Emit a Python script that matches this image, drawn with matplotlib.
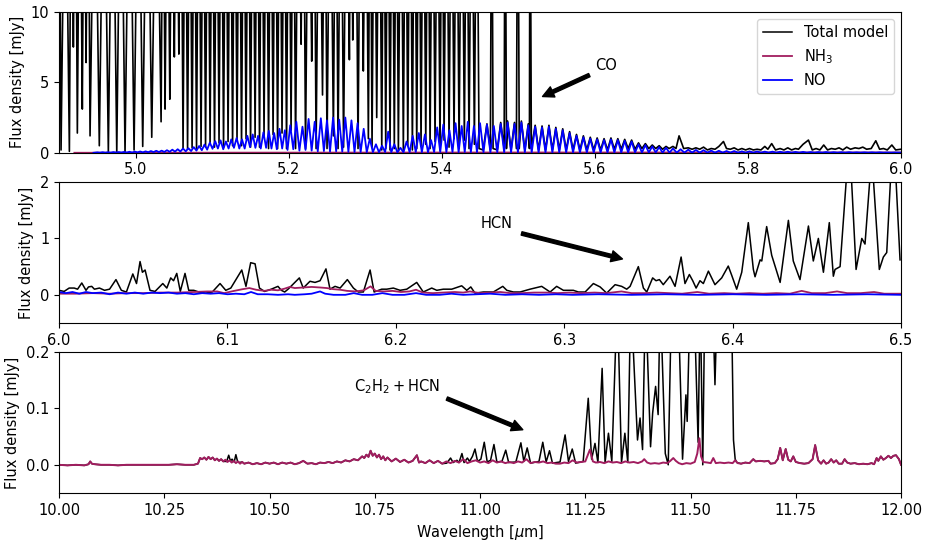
import numpy as np
import matplotlib
matplotlib.use("Agg")
import matplotlib.pyplot as plt
from matplotlib.lines import Line2D

plt.rcParams["font.size"] = 10.5

C_TOT = "black"
C_NH3 = "#a11d5f"
C_NO = "#0000ff"
LW = 1.1

# ── Panel 1 (4.9 – 6.0 µm) ─────────────────────────────────────────
# CO forest: wavelengths where the total model dips between the (off-scale) CO lines
CO_DIP_WL = [
    4.9026, 4.9135, 4.9187, 4.9239, 4.9304, 4.9353, 4.9405, 4.9526, 4.9644, 4.9754,
    4.9862, 4.9980, 5.0093, 5.0211, 5.0333, 5.0385, 5.0447, 5.0506, 5.0565,
    5.0620, 5.0679, 5.0738, 5.0796, 5.0855, 5.0914, 5.0973, 5.1031, 5.1090, 5.1149,
    5.1208, 5.1267, 5.1325, 5.1384, 5.1443, 5.1502, 5.1561, 5.1619, 5.1678, 5.1737,
    5.1796, 5.1855, 5.1913, 5.1972, 5.2031, 5.2090, 5.2162, 5.2220, 5.2301, 5.2358,
    5.2442, 5.2501, 5.2584, 5.2645, 5.2717, 5.2793, 5.2837, 5.2906, 5.2975, 5.3041,
    5.3089,
    5.3150, 5.3216, 5.3268, 5.3324, 5.3380, 5.3433, 5.3498, 5.3556, 5.3616, 5.3673,
    5.3729, 5.3791, 5.3847, 5.3912, 5.3977, 5.4030, 5.4095, 5.4160, 5.4226, 5.4295,
    5.4356, 5.4426, 5.4487,
]
CO_DIP_MIN = [
    0.2, 0.1, 7.5, 1.4, 3.1, 6.4, 1.2, 0.5, 0.1, 0.05,
    0.05, 0.2, 0.45, 1.1, 2.2, 3.1, 3.8, 6.8, 7.0,
    0.3, 0.25, 0.35, 0.3, 0.45, 0.4, 0.6, 0.4, 0.7, 0.4,
    0.8, 0.5, 0.9, 0.5, 1.0, 0.4, 1.1, 0.4, 1.2, 0.3,
    1.3, 0.3, 1.4, 0.3, 1.6, 0.3, 7.7, 0.3, 6.5, 0.3,
    4.1, 0.3, 1.2, 0.3, 0.4, 6.6, 8.0, 0.3, 5.8, 1.0,
    0.4,
    2.5, 0.2, 0.3, 0.2, 0.3, 0.1, 0.2, 0.5, 0.2, 0.3,
    0.5, 0.6, 0.3, 0.8, 0.2, 0.9, 0.4, 1.0, 0.3, 0.9,
    0.3, 0.6, 0.3,
]
CO_OFFSCALE = 25.0  # CO line peaks run far above the 10 mJy limit

# total model after the CO forest (incl. the last isolated CO lines)
TOT1_TAIL_WL = [
    5.454, 5.459, 5.4635, 5.4653, 5.467, 5.4725, 5.477, 5.4815, 5.4827, 5.4845,
    5.486, 5.4905, 5.495, 5.4975, 5.4993, 5.5012, 5.504, 5.5085, 5.513, 5.5145,
    5.5153, 5.517, 5.522, 5.5265, 5.531, 5.5355, 5.540, 5.5445, 5.549, 5.5535,
    5.558, 5.5625, 5.567, 5.5715, 5.576, 5.5805, 5.585, 5.5895, 5.594, 5.5985,
    5.603, 5.6075, 5.612, 5.6165, 5.621, 5.6255, 5.630, 5.6345, 5.639, 5.6435,
    5.648, 5.6525, 5.657, 5.6615, 5.666, 5.6705, 5.675, 5.6795, 5.684, 5.6885,
    5.693, 5.697, 5.702, 5.706, 5.710, 5.716, 5.722, 5.727, 5.732, 5.737,
    5.742, 5.747, 5.752, 5.757, 5.762, 5.768, 5.772, 5.777, 5.782, 5.787,
    5.792, 5.797, 5.802, 5.807, 5.812, 5.817, 5.822, 5.826, 5.831, 5.836,
    5.842, 5.847, 5.852, 5.857, 5.862, 5.866, 5.872, 5.879, 5.884, 5.889,
    5.894, 5.899, 5.904, 5.909, 5.914, 5.919, 5.924, 5.929, 5.934, 5.940,
    5.945, 5.950, 5.955, 5.961, 5.967, 5.972, 5.977, 5.982, 5.988, 5.993,
    6.000,
]
TOT1_TAIL_FLUX = [
    0.2, 2.05, 0.2, 25, 0.3, 0.2, 2.15, 0.3, 25, 0.3,
    2.25, 0.2, 2.15, 0.3, 25, 0.3, 2.25, 0.2, 2.05, 0.3,
    25, 0.3, 1.95, 0.2, 1.9, 0.2, 1.95, 0.2, 1.8, 0.2,
    1.7, 0.2, 1.5, 0.2, 1.3, 0.2, 1.2, 0.2, 1.1, 0.2,
    1.05, 0.2, 1.0, 0.2, 1.05, 0.25, 1.0, 0.25, 0.95, 0.3,
    0.9, 0.25, 0.7, 0.3, 0.65, 0.3, 0.55, 0.3, 0.5, 0.25,
    0.45, 0.3, 0.45, 0.3, 1.2, 0.3, 0.35, 0.25, 0.35, 0.25,
    0.4, 0.2, 0.3, 0.25, 0.45, 0.8, 0.3, 0.25, 0.35, 0.2,
    0.3, 0.2, 0.3, 0.2, 0.25, 0.2, 0.45, 0.25, 0.65, 0.2,
    0.3, 0.2, 0.35, 0.2, 0.3, 0.25, 0.6, 0.9, 0.2, 0.3,
    0.2, 0.55, 0.2, 0.3, 0.25, 0.35, 0.2, 0.4, 0.25, 0.35,
    0.3, 0.4, 0.25, 0.3, 0.85, 0.25, 0.3, 0.2, 0.55, 0.2,
    0.25,
]

# NO band: line peaks and the troughs after each line
NO1_PEAK_WL = [
    4.950, 4.957, 4.964, 4.971, 4.978, 4.985, 4.992, 4.999, 5.006, 5.013,
    5.020, 5.027, 5.034, 5.041, 5.048, 5.055, 5.062, 5.069, 5.076, 5.083,
    5.090, 5.097, 5.104, 5.111, 5.118, 5.125, 5.132, 5.139, 5.146, 5.153,
    5.160, 5.167, 5.174, 5.181, 5.188, 5.195, 5.202, 5.210, 5.218, 5.226,
    5.234, 5.242, 5.250, 5.258, 5.266, 5.274, 5.282, 5.290, 5.298, 5.306,
    5.314, 5.322, 5.330, 5.338, 5.346, 5.354, 5.362, 5.370, 5.378, 5.386,
    5.394, 5.402, 5.410, 5.418, 5.426, 5.434, 5.442, 5.450, 5.459, 5.468,
    5.477, 5.486, 5.495, 5.504, 5.513, 5.522, 5.531, 5.540, 5.549, 5.558,
    5.567, 5.576, 5.585, 5.594, 5.603, 5.612, 5.621, 5.630, 5.639, 5.648,
    5.657, 5.666, 5.675, 5.684, 5.693, 5.702, 5.712, 5.722, 5.732, 5.742,
    5.752, 5.762, 5.772, 5.782, 5.792, 5.802, 5.812, 5.822, 5.832, 5.842,
    5.852, 5.862, 5.872, 5.882, 5.892, 5.902, 5.912, 5.922, 5.932, 5.942,
    5.952, 5.962, 5.972, 5.982, 5.992,
]
NO1_PEAK_FLUX = [
    0.03, 0.04, 0.04, 0.05, 0.05, 0.06, 0.07, 0.08, 0.09, 0.10,
    0.12, 0.14, 0.15, 0.18, 0.22, 0.25, 0.30, 0.32, 0.40, 0.48,
    0.58, 0.72, 0.82, 0.88, 0.80, 0.95, 1.05, 0.95, 1.20, 1.30,
    1.20, 1.45, 1.55, 1.40, 1.70, 1.60, 1.95, 2.20, 1.85, 2.40,
    2.20, 2.45, 2.30, 2.50, 2.35, 2.50, 2.30, 2.10, 1.70, 1.00,
    0.60, 0.50, 1.50, 0.60, 0.35, 0.80, 1.20, 1.40, 1.30, 0.90,
    1.80, 2.00, 1.60, 2.10, 1.90, 2.20, 1.90, 2.10, 2.00, 1.90,
    2.05, 2.15, 2.05, 2.15, 1.95, 1.85, 1.80, 1.85, 1.70, 1.60,
    1.40, 1.20, 1.10, 1.00, 0.95, 0.90, 0.95, 0.90, 0.85, 0.80,
    0.60, 0.55, 0.45, 0.40, 0.35, 0.30, 0.25, 0.22, 0.20, 0.18,
    0.15, 0.14, 0.12, 0.12, 0.10, 0.10, 0.09, 0.08, 0.08, 0.07,
    0.07, 0.06, 0.06, 0.05, 0.05, 0.05, 0.04, 0.04, 0.04, 0.03,
    0.03, 0.03, 0.03, 0.02, 0.02,
]
NO1_TROUGH_FLUX = [
    0.01, 0.01, 0.01, 0.02, 0.02, 0.02, 0.02, 0.03, 0.03, 0.04,
    0.05, 0.05, 0.06, 0.07, 0.08, 0.09, 0.10, 0.12, 0.15, 0.18,
    0.22, 0.28, 0.30, 0.25, 0.30, 0.35, 0.30, 0.30, 0.40, 0.35,
    0.30, 0.35, 0.30, 0.25, 0.30, 0.20, 0.25, 0.15, 0.20, 0.15,
    0.10, 0.12, 0.08, 0.10, 0.08, 0.06, 0.05, 0.05, 0.04, 0.04,
    0.03, 0.05, 0.04, 0.03, 0.03, 0.04, 0.05, 0.04, 0.03, 0.05,
    0.05, 0.04, 0.05, 0.04, 0.05, 0.04, 0.04, 0.03, 0.03, 0.03,
    0.03, 0.03, 0.03, 0.03, 0.03, 0.02, 0.02, 0.02, 0.02, 0.02,
    0.02, 0.02, 0.02, 0.02, 0.02, 0.02, 0.02, 0.02, 0.02, 0.02,
    0.02, 0.02, 0.02, 0.01, 0.01, 0.01, 0.01, 0.01, 0.01, 0.01,
    0.01, 0.01, 0.01, 0.01, 0.01, 0.01, 0.01, 0.01, 0.01, 0.01,
    0.01, 0.01, 0.01, 0.01, 0.01, 0.01, 0.01, 0.01, 0.01, 0.01,
    0.01, 0.01, 0.01, 0.01,
]

NH3_1_WL = [4.92, 5.2, 5.5, 5.8, 6.0]
NH3_1_FLUX = [0.0, 0.01, 0.02, 0.02, 0.02]

# ── Panel 2 (6.0 – 6.5 µm) ─────────────────────────────────────────
TOT2_WL = [
    6.000, 6.003, 6.006, 6.009, 6.011, 6.0135, 6.016, 6.0175, 6.0194, 6.021,
    6.024, 6.027, 6.030, 6.0338, 6.037, 6.040, 6.0438, 6.046, 6.0481, 6.0495,
    6.0511, 6.054, 6.057, 6.0616, 6.064, 6.0663, 6.068, 6.0699, 6.072, 6.0748,
    6.077, 6.080, 6.083, 6.087, 6.091, 6.0956, 6.099, 6.102, 6.1085, 6.111,
    6.1138, 6.1164, 6.119, 6.122, 6.126, 6.130, 6.132, 6.134, 6.136, 6.1427,
    6.145, 6.149, 6.152, 6.155, 6.1585, 6.1609, 6.1639, 6.1669, 6.1712, 6.1748,
    6.1777, 6.1807, 6.1847, 6.1871, 6.1916, 6.1946, 6.1985, 6.2025, 6.2065, 6.2124,
    6.2163, 6.2213, 6.2243, 6.2282, 6.2332, 6.2391, 6.2421, 6.2445, 6.2470, 6.2520,
    6.2579, 6.2635, 6.2659, 6.2698, 6.2738, 6.2797, 6.2866, 6.2916, 6.2955, 6.2995,
    6.3054, 6.3084, 6.3124, 6.3173, 6.3213, 6.3252, 6.3302, 6.3341, 6.3371, 6.3391,
    6.3440, 6.3470, 6.3490, 6.3525, 6.3545, 6.3565, 6.3588, 6.3628, 6.3658, 6.3694,
    6.3717, 6.3743, 6.3763, 6.3783, 6.3806, 6.3826, 6.3856, 6.3895, 6.3935, 6.3974,
    6.3994, 6.4024, 6.4054, 6.4093, 6.4123, 6.4133, 6.4163, 6.4173, 6.4202, 6.4232,
    6.4282, 6.4331, 6.4360, 6.4400, 6.4450, 6.4479, 6.4509, 6.4539, 6.4574, 6.4598,
    6.4608, 6.4638, 6.4693, 6.4733, 6.4767, 6.4786, 6.4826, 6.4871, 6.4895, 6.4915,
    6.4954, 6.4994,
]
TOT2_FLUX = [
    0.08, 0.06, 0.12, 0.12, 0.10, 0.21, 0.08, 0.14, 0.15, 0.10,
    0.12, 0.08, 0.10, 0.27, 0.08, 0.05, 0.37, 0.20, 0.59, 0.40,
    0.44, 0.08, 0.06, 0.20, 0.12, 0.30, 0.25, 0.38, 0.06, 0.38,
    0.08, 0.08, 0.05, 0.03, 0.05, 0.20, 0.08, 0.12, 0.44, 0.15,
    0.57, 0.55, 0.12, 0.06, 0.10, 0.15, 0.08, 0.05, 0.10, 0.30,
    0.12, 0.24, 0.22, 0.25, 0.46, 0.10, 0.15, 0.12, 0.27, 0.12,
    0.05, 0.05, 0.44, 0.05, 0.10, 0.10, 0.12, 0.08, 0.10, 0.22,
    0.05, 0.12, 0.08, 0.10, 0.10, 0.16, 0.08, 0.14, 0.03, 0.05,
    0.05, 0.15, 0.08, 0.05, 0.05, 0.10, 0.15, 0.05, 0.15, 0.08,
    0.08, 0.05, 0.05, 0.20, 0.14, 0.03, 0.18, 0.15, 0.10, 0.15,
    0.50, 0.12, 0.05, 0.30, 0.25, 0.27, 0.18, 0.33, 0.15, 0.67,
    0.20, 0.36, 0.25, 0.12, 0.25, 0.20, 0.42, 0.18, 0.30, 0.51,
    0.35, 0.10, 0.40, 1.28, 0.45, 0.32, 0.62, 0.60, 1.21, 0.70,
    0.22, 1.32, 0.60, 0.27, 1.22, 0.60, 1.00, 0.40, 1.28, 0.33,
    0.45, 0.50, 2.80, 0.45, 1.00, 0.90, 2.50, 0.45, 0.67, 0.75,
    3.00, 0.62,
]
NH3_2_WL = [
    6.000, 6.010, 6.020, 6.030, 6.040, 6.050, 6.060, 6.070, 6.080, 6.088,
    6.094, 6.098, 6.104, 6.109, 6.113, 6.117, 6.122, 6.126, 6.130, 6.134,
    6.137, 6.140, 6.145, 6.150, 6.155, 6.159, 6.163, 6.167, 6.171, 6.176,
    6.181, 6.185, 6.188, 6.193, 6.198, 6.203, 6.208, 6.212, 6.216, 6.222,
    6.228, 6.235, 6.240, 6.244, 6.250, 6.256, 6.262, 6.268, 6.275, 6.282,
    6.290, 6.296, 6.303, 6.310, 6.318, 6.325, 6.334, 6.340, 6.348, 6.355,
    6.362, 6.370, 6.379, 6.386, 6.395, 6.402, 6.410, 6.418, 6.426, 6.434,
    6.441, 6.447, 6.455, 6.462, 6.468, 6.476, 6.484, 6.490, 6.500,
]
NH3_2_FLUX = [
    0.02, 0.02, 0.03, 0.02, 0.03, 0.03, 0.04, 0.04, 0.05, 0.06,
    0.06, 0.03, 0.07, 0.10, 0.12, 0.09, 0.07, 0.09, 0.08, 0.11,
    0.14, 0.12, 0.13, 0.14, 0.13, 0.12, 0.10, 0.09, 0.07, 0.06,
    0.08, 0.15, 0.07, 0.06, 0.07, 0.05, 0.06, 0.09, 0.04, 0.03,
    0.04, 0.05, 0.04, 0.06, 0.03, 0.04, 0.05, 0.03, 0.03, 0.04,
    0.04, 0.03, 0.04, 0.03, 0.04, 0.03, 0.06, 0.03, 0.03, 0.04,
    0.03, 0.02, 0.05, 0.02, 0.03, 0.02, 0.03, 0.02, 0.03, 0.02,
    0.07, 0.03, 0.03, 0.06, 0.03, 0.03, 0.05, 0.02, 0.02,
]
NO2_WL = [
    6.000, 6.004, 6.008, 6.012, 6.016, 6.020, 6.025, 6.030, 6.035, 6.040,
    6.045, 6.050, 6.055, 6.060, 6.065, 6.070, 6.075, 6.080, 6.085, 6.090,
    6.095, 6.100, 6.105, 6.110, 6.114, 6.118, 6.124, 6.130, 6.136, 6.140,
    6.146, 6.150, 6.155, 6.158, 6.163, 6.170, 6.175, 6.180, 6.186, 6.192,
    6.198, 6.205, 6.212, 6.218, 6.226, 6.233, 6.240, 6.248, 6.256, 6.265,
    6.275, 6.285, 6.295, 6.305, 6.320, 6.340, 6.360, 6.380, 6.400, 6.420,
    6.440, 6.460, 6.480, 6.500,
]
NO2_FLUX = [
    0.05, 0.03, 0.05, 0.02, 0.05, 0.03, 0.04, 0.01, 0.04, 0.02,
    0.04, 0.02, 0.04, 0.03, 0.04, 0.02, 0.03, 0.01, 0.03, 0.02,
    0.03, 0.01, 0.02, 0.01, 0.05, 0.01, 0.01, 0.00, 0.01, 0.00,
    0.01, 0.02, 0.06, 0.02, 0.00, 0.00, 0.03, 0.00, 0.00, 0.03,
    0.00, 0.00, 0.03, 0.00, 0.00, 0.02, 0.00, 0.01, 0.02, 0.00,
    0.01, 0.00, 0.01, 0.00, 0.01, 0.00, 0.01, 0.00, 0.01, 0.00,
    0.01, 0.00, 0.01, 0.00,
]

# ── Panel 3 (10 – 12 µm) ───────────────────────────────────────────
NH3_3_WL = [
    10.000, 10.020, 10.040, 10.060, 10.070, 10.074, 10.078, 10.085, 10.100, 10.120,
    10.140, 10.160, 10.180, 10.200, 10.220, 10.240, 10.260, 10.280, 10.300, 10.320,
    10.330, 10.335, 10.340, 10.345, 10.350, 10.355, 10.360, 10.365, 10.370, 10.375,
    10.380, 10.385, 10.390, 10.395, 10.400, 10.405, 10.410, 10.415, 10.420, 10.425,
    10.430, 10.435, 10.440, 10.450, 10.460, 10.470, 10.480, 10.490, 10.500, 10.510,
    10.520, 10.530, 10.540, 10.550, 10.560, 10.570, 10.580, 10.590, 10.600, 10.610,
    10.620, 10.630, 10.640, 10.650, 10.660, 10.670, 10.680, 10.690, 10.700, 10.710,
    10.720, 10.725, 10.730, 10.735, 10.740, 10.745, 10.750, 10.755, 10.760, 10.765,
    10.770, 10.775, 10.780, 10.790, 10.800, 10.810, 10.820, 10.830, 10.840, 10.850,
    10.855, 10.860, 10.870, 10.880, 10.890, 10.900, 10.910, 10.920, 10.930, 10.940,
    10.950, 10.960, 10.970, 10.980, 10.990, 11.000, 11.010, 11.020, 11.030, 11.040,
    11.050, 11.060, 11.070, 11.080, 11.090, 11.100, 11.110, 11.120, 11.130, 11.140,
    11.150, 11.160, 11.170, 11.180, 11.190, 11.200, 11.210, 11.220, 11.230, 11.240,
    11.250, 11.261, 11.268, 11.275, 11.285, 11.295, 11.305, 11.315, 11.325, 11.335,
    11.345, 11.355, 11.365, 11.375, 11.385, 11.390, 11.397, 11.405, 11.415, 11.425,
    11.435, 11.445, 11.452, 11.459, 11.465, 11.472, 11.480, 11.490, 11.500, 11.510,
    11.516, 11.521, 11.525, 11.530, 11.540, 11.548, 11.554, 11.560, 11.570, 11.580,
    11.590, 11.600, 11.606, 11.612, 11.620, 11.630, 11.640, 11.649, 11.655, 11.665,
    11.675, 11.685, 11.690, 11.700, 11.707, 11.713, 11.719, 11.726, 11.732, 11.738,
    11.744, 11.750, 11.760, 11.770, 11.780, 11.790, 11.796, 11.803, 11.810, 11.816,
    11.822, 11.828, 11.834, 11.840, 11.846, 11.852, 11.860, 11.866, 11.872, 11.880,
    11.890, 11.900, 11.910, 11.920, 11.930, 11.936, 11.942, 11.946, 11.952, 11.958,
    11.964, 11.970, 11.976, 11.982, 11.988, 11.995, 12.000,
]
NH3_3_FLUX = [
    0.000, -0.001, 0.000, -0.001, 0.001, 0.006, 0.002, 0.001, 0.000, 0.000,
    -0.001, 0.000, 0.000, 0.000, 0.000, 0.000, 0.000, 0.001, 0.000, 0.000,
    0.002, 0.012, 0.010, 0.013, 0.009, 0.014, 0.010, 0.013, 0.008, 0.011,
    0.007, 0.010, 0.006, 0.009, 0.005, 0.008, 0.004, 0.007, 0.003, 0.006,
    0.002, 0.005, 0.002, 0.004, 0.001, 0.003, 0.001, 0.004, 0.002, 0.004,
    0.001, 0.004, 0.002, 0.004, 0.001, 0.003, 0.007, 0.002, 0.003, 0.001,
    0.004, 0.003, 0.005, 0.003, 0.006, 0.004, 0.008, 0.006, 0.010, 0.008,
    0.015, 0.012, 0.018, 0.014, 0.025, 0.016, 0.020, 0.013, 0.018, 0.010,
    0.015, 0.008, 0.013, 0.006, 0.011, 0.005, 0.009, 0.004, 0.007, 0.017,
    0.004, 0.006, 0.003, 0.008, 0.003, 0.007, 0.002, 0.006, 0.003, 0.007,
    0.004, 0.010, 0.003, 0.006, 0.008, 0.004, 0.006, 0.003, 0.008, 0.004,
    0.006, 0.003, 0.005, 0.003, 0.006, 0.004, 0.010, 0.003, 0.005, 0.004,
    0.006, 0.003, 0.004, 0.002, 0.002, 0.004, 0.003, 0.008, 0.004, 0.005,
    0.006, 0.027, 0.006, 0.004, 0.005, 0.003, 0.006, 0.004, 0.005, 0.003,
    0.006, 0.004, 0.005, 0.003, 0.006, 0.010, 0.004, 0.002, 0.003, 0.002,
    0.004, 0.003, 0.007, 0.012, 0.007, 0.003, 0.001, 0.003, 0.002, 0.005,
    0.020, 0.047, 0.015, 0.005, 0.004, 0.003, 0.012, 0.003, 0.004, 0.003,
    0.004, 0.003, 0.008, 0.003, 0.002, 0.004, 0.003, 0.010, 0.006, 0.007,
    0.006, 0.007, 0.002, 0.003, 0.010, 0.030, 0.008, 0.028, 0.009, 0.006,
    0.015, 0.005, 0.003, 0.002, 0.003, 0.010, 0.035, 0.008, 0.002, 0.008,
    0.002, 0.004, 0.010, 0.004, 0.008, 0.002, 0.002, 0.010, 0.004, 0.002,
    0.003, 0.001, 0.002, 0.001, 0.003, 0.001, 0.012, 0.007, 0.015, 0.009,
    0.012, 0.016, 0.012, 0.016, 0.017, 0.010, 0.000,
]
# where the total model departs from NH3 (C2H2 + HCN)
TOT3_WINDOWS = [(10.395, 10.430), (10.920, 11.612)]
TOT3_EXTRA_WL = [
    10.398, 10.403, 10.407, 10.411, 10.416, 10.420, 10.424, 10.428,
    10.921, 10.930, 10.936, 10.945, 10.950, 10.957, 10.962, 10.970, 10.975, 10.982,
    10.988, 10.994, 11.002, 11.010, 11.017, 11.025, 11.033, 11.040, 11.052, 11.061,
    11.068, 11.085, 11.097, 11.104, 11.112, 11.120, 11.140, 11.149, 11.157, 11.165,
    11.172, 11.190, 11.202, 11.210, 11.219, 11.227, 11.245, 11.257, 11.265, 11.273,
    11.280, 11.290, 11.297, 11.305, 11.313, 11.326, 11.336, 11.344, 11.351, 11.358,
    11.374, 11.380, 11.386, 11.393, 11.405, 11.410, 11.417, 11.423, 11.428, 11.440,
    11.447, 11.455, 11.472, 11.481, 11.489, 11.492, 11.499, 11.510, 11.518, 11.523,
    11.529, 11.534, 11.553, 11.558, 11.563, 11.597, 11.602, 11.606, 11.610,
]
TOT3_EXTRA_FLUX = [
    0.006, 0.017, 0.007, 0.010, 0.005, 0.018, 0.006, 0.004,
    0.003, 0.012, 0.004, 0.008, 0.004, 0.020, 0.004, 0.012, 0.006, 0.015,
    0.028, 0.006, 0.010, 0.040, 0.005, 0.008, 0.036, 0.005, 0.006, 0.026,
    0.004, 0.005, 0.039, 0.006, 0.030, 0.003, 0.006, 0.040, 0.005, 0.025,
    0.003, 0.005, 0.053, 0.006, 0.028, 0.003, 0.006, 0.118, 0.010, 0.038,
    0.004, 0.171, 0.004, 0.056, 0.006, 0.300, 0.004, 0.056, 0.004, 0.300,
    0.044, 0.083, 0.027, 0.300, 0.032, 0.092, 0.139, 0.089, 0.300, 0.020,
    0.000, 0.300, 0.250, 0.010, 0.124, 0.077, 0.300, 0.250, 0.040, 0.300,
    0.000, 0.300, 0.280, 0.142, 0.280, 0.300, 0.044, 0.010, 0.004,
]


def co_forest(dip_wl, dip_min, high):
    # dips between saturated CO lines; line peaks are off the axis
    x, y = [4.9], [high]
    for i, (w, m) in enumerate(zip(dip_wl, dip_min)):
        x.append(w)
        y.append(m)
        if i < len(dip_wl) - 1:
            x.append(0.5 * (w + dip_wl[i + 1]))
            y.append(high)
    return x, y


def line_band(peak_wl, peak_flux, trough_flux):
    x, y = [4.945], [0.0]
    for i, (w, f) in enumerate(zip(peak_wl, peak_flux)):
        x.append(w)
        y.append(f)
        if i < len(trough_flux) and i < len(peak_wl) - 1:
            x.append(0.5 * (w + peak_wl[i + 1]))
            y.append(trough_flux[i])
    x.append(6.0)
    y.append(0.01)
    return x, y


ARROW = dict(facecolor="black", shrink=0.05, width=2.5, headwidth=8, headlength=8)

fig = plt.figure(figsize=(9.27, 5.45), dpi=100)
ax1 = fig.add_axes([0.0637, 0.7197, 0.9083, 0.2587])
ax2 = fig.add_axes([0.0637, 0.4073, 0.9083, 0.2587])
ax3 = fig.add_axes([0.0637, 0.0954, 0.9083, 0.2587])

# panel 1
cx, cy = co_forest(CO_DIP_WL, CO_DIP_MIN, CO_OFFSCALE)
ax1.plot(cx + TOT1_TAIL_WL, cy + TOT1_TAIL_FLUX, color=C_TOT, lw=LW + 0.1)
ax1.plot(NH3_1_WL, NH3_1_FLUX, color=C_NH3, lw=LW + 0.2)
nx, ny = line_band(NO1_PEAK_WL, NO1_PEAK_FLUX, NO1_TROUGH_FLUX)
ax1.plot(nx, ny, color=C_NO, lw=LW + 0.2)
ax1.set_xlim(4.9, 6.0)
ax1.set_ylim(0, 10)
ax1.set_xticks([5.0, 5.2, 5.4, 5.6, 5.8, 6.0])
ax1.set_yticks([0, 5, 10])
ax1.annotate("CO", xy=(5.528, 3.9), xytext=(5.600, 5.9), arrowprops=ARROW)
handles = [Line2D([0], [0], color=C_TOT, lw=LW, label="Total model"),
           Line2D([0], [0], color=C_NH3, lw=LW + 0.2, label="NH$_3$"),
           Line2D([0], [0], color=C_NO, lw=LW + 0.2, label="NO")]
ax1.legend(handles=handles, loc="upper right")

# panel 2
ax2.plot(TOT2_WL, TOT2_FLUX, color=C_TOT, lw=LW)
ax2.plot(NH3_2_WL, NH3_2_FLUX, color=C_NH3, lw=LW + 0.2)
ax2.plot(NO2_WL, NO2_FLUX, color=C_NO, lw=LW + 0.2)
ax2.set_xlim(6.0, 6.5)
ax2.set_ylim(-0.5, 2)
ax2.set_yticks([0, 1, 2])
ax2.annotate("HCN", xy=(6.338, 0.61), xytext=(6.2506, 1.18), arrowprops=ARROW)

# panel 3
w3 = np.array(NH3_3_WL)
f3 = np.array(NH3_3_FLUX)
keep = np.ones(len(w3), dtype=bool)
for lo, hi in TOT3_WINDOWS:
    keep &= ~((w3 >= lo) & (w3 <= hi))
tx = np.concatenate([w3[keep], TOT3_EXTRA_WL])
ty = np.concatenate([f3[keep], TOT3_EXTRA_FLUX])
order = np.argsort(tx, kind="stable")
ax3.plot(tx[order], ty[order], color=C_TOT, lw=LW)
ax3.plot(w3, f3, color=C_NH3, lw=LW + 0.3)
ax3.set_xlim(10, 12)
ax3.set_ylim(-0.05, 0.2)
ax3.set_xticks([10.0, 10.25, 10.5, 10.75, 11.0, 11.25, 11.5, 11.75, 12.0])
ax3.set_yticks([0.0, 0.1, 0.2])
ax3.annotate(r"$\mathrm{C_2H_2 + HCN}$", xy=(11.112, 0.059), xytext=(10.70, 0.131),
             arrowprops=ARROW)
ax3.set_xlabel(r"Wavelength [$\mu$m]")

for ax in (ax1, ax2, ax3):
    ax.set_ylabel("Flux density [mJy]")

fig.savefig("out.png", dpi=100)
